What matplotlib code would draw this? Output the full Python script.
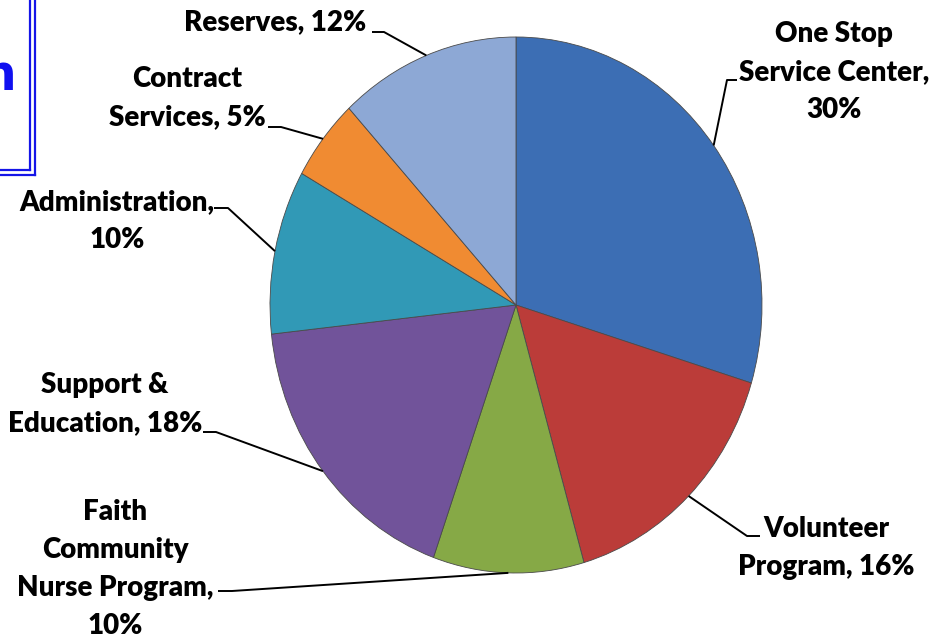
import numpy as np
import matplotlib
matplotlib.use("Agg")
import matplotlib.pyplot as plt

categories = ["One Stop\nService Center", "Volunteer\nProgram", "Faith\nCommunity\nNurse Program",
              "Support &\nEducation", "Administration", "Contract\nServices", "Reserves"]
label_texts = ["One Stop\nService Center,\n30%", "Volunteer\nProgram, 16%",
               "Faith\nCommunity\nNurse Program,\n10%", "Support &\nEducation, 18%",
               "Administration,\n10%", "Contract\nServices, 5%", "Reserves, 12%"]
values = [30, 16, 10, 18, 10, 5, 12]
colors = ["#3C6EB4", "#BB3C39", "#86A946", "#71539A", "#3199B6", "#F08B32", "#8DA8D5"]

W, H = 933, 643
fig = plt.figure(figsize=(W / 100, H / 100), dpi=100)
ax = fig.add_axes([0, 0, 1, 1])

# pixel geometry of the (elliptical) pie
cx, cy, rx, ry = 516, 305, 246, 268

wedges, _ = ax.pie(values, colors=colors, startangle=90, counterclock=False,
                   radius=1, center=(0, 0),
                   wedgeprops=dict(edgecolor="#4a4a4a", linewidth=0.6))
ax.set_aspect("auto")
ax.set_xlim(-cx / rx, (W - cx) / rx)
ax.set_ylim(-(H - cy) / ry, cy / ry)
ax.axis("off")

def p2d(px, py):
    return (px - cx) / rx, (cy - py) / ry

# label layout (pixel positions)
label_pos = [(834, 72, "center"), (826, 548, "center"), (115, 569, "center"),
             (105, 404, "center"), (117, 221, "center"), (187, 98, "center"),
             (366, 22, "right")]
leader_start = [((737, 80), (727, 80)), ((760, 536), (747, 536)), ((218, 591), (232, 591)),
                ((203, 432), (216, 432)), ((214, 208), (228, 208)), ((268, 127), (281, 127)),
                ((372, 32), (384, 32))]

font = dict(family=["Lato", "DejaVu Sans"], fontweight="heavy", fontsize=20, color="black")
for w, txt, (px, py, ha), (s0, s1) in zip(wedges, label_texts, label_pos, leader_start):
    mid = np.deg2rad((w.theta1 + w.theta2) / 2)
    ex, ey = np.cos(mid), np.sin(mid)
    x0, y0 = p2d(*s0)
    x1, y1 = p2d(*s1)
    ax.plot([x0, x1, ex], [y0, y1, ey], color="black", lw=1.4, solid_capstyle="butt")
    tx, ty = p2d(px, py)
    ax.text(tx, ty, txt, ha=ha, va="center", multialignment="center",
            linespacing=1.58, **font)

# partial title box in the top-left corner (cut off by the image edge, as in the reference)
for off in (30, 35):
    fig.add_artist(plt.Line2D([off / W, off / W], [1.02, 1 - (140 + off) / H],
                              color="#1515E8", lw=1.6, transform=fig.transFigure))
    fig.add_artist(plt.Line2D([-0.01, off / W], [1 - (140 + off) / H, 1 - (140 + off) / H],
                              color="#1515E8", lw=1.6, transform=fig.transFigure))
fig.text(17 / W, 1 - 71.5 / H, "n", ha="right", va="center_baseline", color="#1010F0",
         fontsize=35, fontweight="bold", family=["DejaVu Sans"])

fig.savefig("out.png", dpi=100, facecolor="white")
